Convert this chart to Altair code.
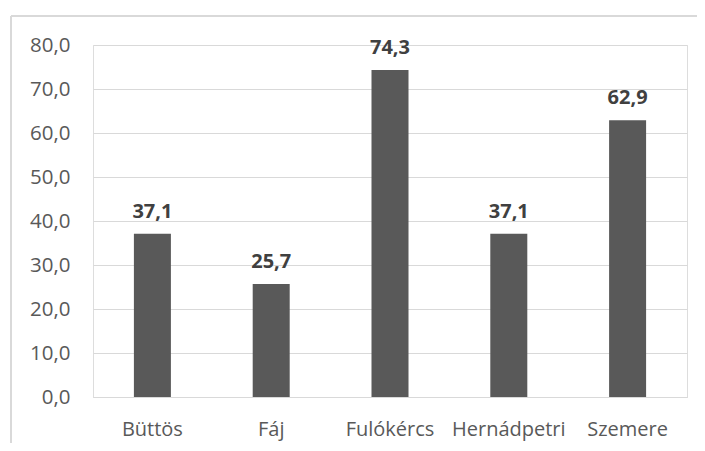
import altair as alt
import pandas as pd

categories = ["Büttös", "Fáj", "Fulókércs", "Hernádpetri", "Szemere"]
values = [37.1, 25.7, 74.3, 37.1, 62.9]

df = pd.DataFrame({"cat": categories, "val": values})
df["label"] = [f"{v:.1f}".replace(".", ",") for v in values]

FONT = "Open Sans"

base = alt.Chart(df)

x = alt.X("cat:N", sort=categories, title=None,
          scale=alt.Scale(paddingInner=0.0, paddingOuter=0.0),
          axis=alt.Axis(labelAngle=0, labelFontSize=20, labelColor="#595959",
                        labelFont=FONT, ticks=False, domain=True, domainColor="#d9d9d9",
                        labelPadding=22))
y = alt.Y("val:Q", title=None,
          scale=alt.Scale(domain=[0, 80]),
          axis=alt.Axis(values=[0, 10, 20, 30, 40, 50, 60, 70, 80],
                        labelExpr="replace(format(datum.value, '.1f'), '.', ',')",
                        labelFontSize=20.5, labelColor="#595959", labelFont=FONT,
                        ticks=False, domain=False, gridColor="#d9d9d9",
                        labelPadding=23))

bars = base.mark_bar(color="#595959", size=37).encode(x=x, y=y)

text = base.mark_text(fontSize=20, fontWeight="bold", color="#404040",
                      font=FONT, baseline="alphabetic", dy=-16).encode(
    x=alt.X("cat:N", sort=categories), y="val:Q", text="label:N")

border_left = alt.Chart(df).mark_rule(color="#d9d9d9", strokeWidth=1.5).encode(
    x=alt.value(-82), y=alt.value(-29), y2=alt.value(500))
border_top = alt.Chart(df).mark_rule(color="#d9d9d9", strokeWidth=1.5).encode(
    x=alt.value(-82), x2=alt.value(800), y=alt.value(-29))

chart = alt.layer(border_left, border_top, bars, text).properties(
    width=594, height=352,
    padding={"left": 85, "top": 37, "right": 10, "bottom": 46},
    autosize=alt.AutoSizeParams(type="none"),
).configure_view(stroke=None).configure(background="white")

chart.save("out.html", embed_options={"renderer": "svg", "actions": False})
